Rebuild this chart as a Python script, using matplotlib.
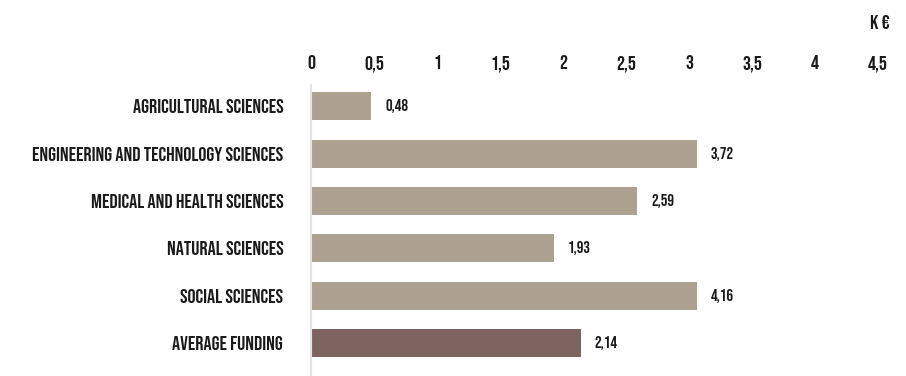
import matplotlib.pyplot as plt

categories = ['AGRICULTURAL SCIENCES', 'ENGINEERING AND TECHNOLOGY SCIENCES',
              'MEDICAL AND HEALTH SCIENCES', 'NATURAL SCIENCES',
              'SOCIAL SCIENCES', 'AVERAGE FUNDING']
# bar lengths as drawn in the reference (two bars are drawn shorter than their label)
bar_lengths = [0.48, 3.06, 2.59, 1.93, 3.06, 2.14]
value_labels = ['0,48', '3,72', '2,59', '1,93', '4,16', '2,14']
xticks = [0, 0.5, 1, 1.5, 2, 2.5, 3, 3.5, 4, 4.5]
xtick_labels = ['0', '0,5', '1', '1,5', '2', '2,5', '3', '3,5', '4', '4,5']

plt.rcParams['font.family'] = ['Bebas Neue', 'DejaVu Sans']

colors = ['#ada291'] * 5 + ['#7e6460']
txt = '#1a1a1a'

fig = plt.figure(figsize=(9.06, 3.76), dpi=100)
W, H = 906, 376
ax = fig.add_axes([311 / W, 0, (878 - 311) / W, (376 - 85) / H])

ys = list(range(len(categories)))
ax.barh(ys, bar_lengths, height=0.59, color=colors)
for y, v, lab in zip(ys, bar_lengths, value_labels):
    ax.text(v + 0.11, y, lab, va='center', ha='left', fontsize=12, color=txt)

ax.set_xlim(0, 4.5)
ax.set_ylim(5.7, -0.45)
ax.xaxis.tick_top()
ax.set_xticks(xticks)
ax.set_xticklabels(xtick_labels, fontsize=14.5, color=txt, va='baseline')
ax.tick_params(axis='x', length=0, pad=11.5)
ax.set_yticks(ys)
ax.set_yticklabels(categories, fontsize=14.5, color=txt)
ax.tick_params(axis='y', length=0, pad=20)
for s in ['top', 'right', 'bottom']:
    ax.spines[s].set_visible(False)
ax.spines['left'].set_color('#e3e3e3')
ax.spines['left'].set_linewidth(1.5)

fig.text(880 / W, 1 - 29 / H, 'K €', ha='center', va='baseline', fontsize=14.5, color=txt)

fig.savefig('out.png', dpi=100)
